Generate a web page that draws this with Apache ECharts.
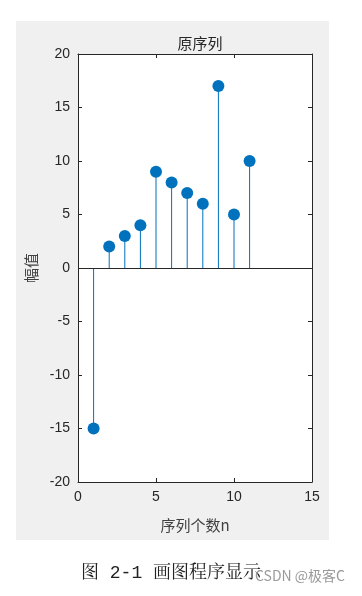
<!DOCTYPE html>
<html><head><meta charset="utf-8">
<script src="https://cdn.jsdelivr.net/npm/echarts@6/dist/echarts.min.js"></script>
<style>html,body{margin:0;padding:0;background:#fff;}#c{width:362px;height:596px;}</style>
</head><body><div id="c"></div>
<script>
var nValues = [1, 2, 3, 4, 5, 6, 7, 8, 9, 10, 11];
var amplitudes = [-15, 2, 3, 4, 9, 8, 7, 6, 17, 5, 10];
var xTicks = [0, 5, 10, 15];
var yTicks = [-20, -15, -10, -5, 0, 5, 10, 15, 20];
var titleText = '原序列';
var xName = '序列个数n';
var yName = '幅值';
var caption = '图 2-1 画图程序显示';
var watermark = 'CSDN @极客C';

var pts = nValues.map(function (n, i) { return [n, amplitudes[i]]; });
var chart = echarts.init(document.getElementById('c'), null, {renderer: 'canvas'});
var axisColor = '#262626';
var labelFont = {color: axisColor, fontSize: 14, fontFamily: 'Liberation Sans, Arial, sans-serif'};
function baseX(pos, showLabel) {
  return {type: 'value', position: pos, min: 0, max: 15, interval: 5, gridIndex: 0,
    axisLine: {show: true, onZero: false, lineStyle: {color: axisColor, width: 1}},
    axisTick: {show: true, inside: true, length: 4, lineStyle: {color: axisColor}},
    axisLabel: Object.assign({show: showLabel, margin: 8}, labelFont),
    splitLine: {show: false}};
}
function baseY(pos, showLabel) {
  return {type: 'value', position: pos, min: -20, max: 20, interval: 5, gridIndex: 0,
    axisLine: {show: true, onZero: false, lineStyle: {color: axisColor, width: 1}},
    axisTick: {show: true, inside: true, length: 4, lineStyle: {color: axisColor}},
    axisLabel: Object.assign({show: showLabel, margin: 8}, labelFont),
    splitLine: {show: false}};
}
var xb = baseX('bottom', true);
xb.name = xName; xb.nameLocation = 'middle'; xb.nameGap = 36;
xb.nameTextStyle = {color: '#404040', fontSize: 15, fontFamily: 'Noto Sans CJK SC, sans-serif'};
var yl = baseY('left', true);
yl.name = yName; yl.nameLocation = 'middle'; yl.nameGap = 38;
yl.nameTextStyle = {color: '#404040', fontSize: 15, fontFamily: 'Noto Sans CJK SC, sans-serif'};

var option = {
  animation: false,
  backgroundColor: '#ffffff',
  graphic: [
    {type: 'rect', z: -10, silent: true, shape: {x: 16, y: 21, width: 313, height: 519}, style: {fill: '#f0f0f0'}},
    {type: 'rect', z: -9, silent: true, shape: {x: 78, y: 54, width: 234, height: 428}, style: {fill: '#ffffff'}},
    {type: 'text', left: 81, top: 564, style: {text: caption, fill: '#222', font: '18px "Liberation Mono", "Noto Serif CJK SC", serif'}},
    {type: 'text', left: 255, top: 569, z: 10, style: {text: watermark, fill: '#9a9a9a', font: '14px "Noto Sans CJK SC", sans-serif'}}
  ],
  title: {text: titleText, left: 195, top: 31, textAlign: 'center',
    textStyle: {color: '#262626', fontSize: 15, fontWeight: 'normal', fontFamily: 'Noto Sans CJK SC, sans-serif'}},
  grid: {left: 78, top: 54, width: 234, height: 428, containLabel: false},
  xAxis: [xb, baseX('top', false)],
  yAxis: [yl, baseY('right', false)],
  series: [
    {type: 'bar', xAxisIndex: 0, yAxisIndex: 0, data: pts, barWidth: 1,
      itemStyle: {color: '#0072BD'}, silent: true,
      markLine: {silent: true, symbol: ['none', 'none'], label: {show: false},
        lineStyle: {color: '#262626', width: 1, type: 'solid'}, data: [{yAxis: 0}]}},
    {type: 'scatter', xAxisIndex: 0, yAxisIndex: 0, data: pts, symbol: 'circle', symbolSize: 12,
      itemStyle: {color: '#0072BD', opacity: 1}, z: 5}
  ]
};
chart.setOption(option);
</script></body></html>
